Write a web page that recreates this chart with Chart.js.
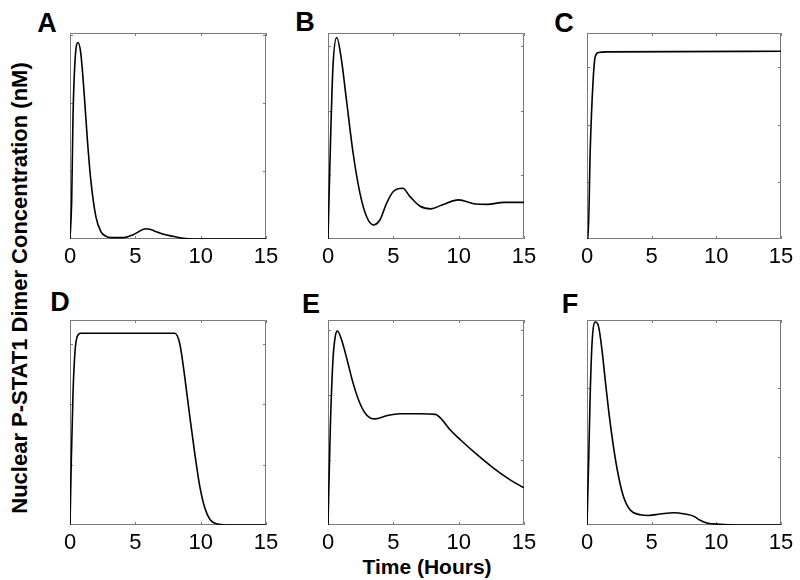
<!DOCTYPE html>
<html><head><meta charset="utf-8">
<script src="https://cdn.jsdelivr.net/npm/chart.js@4.4.0/dist/chart.umd.min.js"></script>
<style>
html,body{margin:0;padding:0;background:#fff;}
#wrap{position:relative;width:800px;height:580px;overflow:hidden;font-family:"Liberation Sans",Arial,sans-serif;color:#000;}
canvas{position:absolute;}
.letter{position:absolute;font-weight:bold;font-size:27px;line-height:1;transform:translate(-50%,-50%);}
#ylab{position:absolute;left:20px;top:288px;transform:translate(-50%,-50%) rotate(-90deg);white-space:nowrap;font-weight:bold;font-size:22px;line-height:1;}
#xlab{position:absolute;left:427px;top:566px;transform:translate(-50%,-50%);white-space:nowrap;font-weight:bold;font-size:21px;line-height:1;}
</style>
</head><body>
<div id="wrap">
  <div class="letter" style="left:47px;top:23px">A</div>
  <div class="letter" style="left:305px;top:22px">B</div>
  <div class="letter" style="left:564px;top:23px">C</div>
  <div class="letter" style="left:60px;top:302px">D</div>
  <div class="letter" style="left:311px;top:304px">E</div>
  <div class="letter" style="left:570px;top:304px">F</div>
  <div id="ylab">Nuclear P-STAT1 Dimer Concentration (nM)</div>
  <div id="xlab">Time (Hours)</div>
</div>
<script>
// ---- data (time in hours, concentration in arbitrary units: y ticks are unlabeled) ----
const xTickValues = [0, 5, 10, 15];
const xTickLabels = ['0', '5', '10', '15'];

const timeA = [0, 0.13, 0.23, 0.39, 0.62, 0.82, 1.08, 1.33, 1.59, 1.98, 2.36, 2.75, 3.13, 4.03, 4.8, 5.83, 6.86, 7.63, 8.14, 8.65, 9.5, 15];
const valA  = [0, 0.58, 1.80, 2.64, 2.89, 2.74, 2.15, 1.46, 0.87, 0.33, 0.11, 0.04, 0.02, 0.02, 0.06, 0.15, 0.09, 0.05, 0.03, 0.01, 0, 0];
const yTicksA = [1, 2, 3];

const timeB = [0, 0.21, 0.38, 0.67, 1.03, 1.41, 1.92, 2.44, 2.95, 3.46, 3.98, 4.49, 5.0, 5.72, 6.28, 7.05, 7.87, 8.72, 10.0, 11.15, 12.18, 13.46, 15];
const valB  = [0, 1.65, 2.69, 3.14, 2.79, 2.17, 1.34, 0.72, 0.35, 0.22, 0.30, 0.56, 0.74, 0.79, 0.66, 0.51, 0.47, 0.53, 0.61, 0.55, 0.54, 0.57, 0.57];
const yTicksB = [1, 2, 3];

const timeC = [0, 0.08, 0.25, 0.46, 0.64, 0.9, 1.54, 15];
const valC  = [0, 0, 1.56, 2.72, 3.19, 3.26, 3.27, 3.28];
const yTicksC = [1, 2, 3];

const timeD = [0, 0.1, 0.23, 0.39, 0.56, 0.82, 8.01, 8.40, 8.78, 9.17, 9.55, 9.94, 10.32, 10.71, 11.22, 11.99, 15];
const valD  = [0, 1.07, 2.18, 2.89, 3.12, 3.17, 3.17, 3.0, 2.45, 1.79, 1.18, 0.63, 0.28, 0.09, 0.02, 0, 0];
const yTicksD = [1, 2, 3];

const timeE = [0, 0.18, 0.38, 0.56, 0.72, 1.03, 1.46, 1.92, 2.44, 2.95, 3.59, 4.49, 5.51, 7.05, 8.21, 8.72, 9.36, 10.13, 11.41, 12.69, 13.97, 15];
const valE  = [0, 1.51, 2.54, 2.90, 2.98, 2.85, 2.54, 2.18, 1.87, 1.69, 1.63, 1.68, 1.71, 1.71, 1.70, 1.62, 1.46, 1.31, 1.08, 0.87, 0.69, 0.57];
const yTicksE = [1, 2, 3];

const timeF = [0, 0.13, 0.25, 0.39, 0.64, 0.9, 1.16, 1.41, 1.67, 2.05, 2.44, 2.83, 3.34, 4.12, 4.76, 5.66, 6.69, 7.59, 8.23, 8.75, 9.27, 10.3, 11.5, 15];
const valF  = [0, 0.95, 1.93, 2.66, 2.97, 2.90, 2.56, 2.12, 1.68, 1.14, 0.71, 0.41, 0.22, 0.15, 0.14, 0.16, 0.18, 0.16, 0.13, 0.07, 0.03, 0.01, 0, 0];
const yTicksF = [1, 2, 3];

// ---- layout ----
const panels = [
  {t: timeA, v: valA, yMax: 3.03, yt: yTicksA, x: 70,  y: 33,  w: 196, h: 206},
  {t: timeB, v: valB, yMax: 3.21, yt: yTicksB, x: 328, y: 33,  w: 196, h: 206},
  {t: timeC, v: valC, yMax: 3.60, yt: yTicksC, x: 587, y: 33,  w: 194, h: 206},
  {t: timeD, v: valD, yMax: 3.39, yt: yTicksD, x: 70,  y: 320, w: 196, h: 205},
  {t: timeE, v: valE, yMax: 3.15, yt: yTicksE, x: 328, y: 320, w: 196, h: 205},
  {t: timeF, v: valF, yMax: 3.00, yt: yTicksF, x: 587, y: 320, w: 194, h: 205}
];

const FRAME = '#7a7a7a';
const framePlugin = {
  id: 'frame',
  beforeDatasetsDraw(chart) {
    const {ctx, chartArea: a, scales: {x, y}} = chart;
    ctx.save();
    ctx.strokeStyle = FRAME;
    ctx.lineWidth = 1;
    ctx.beginPath();
    ctx.rect(a.left + 0.5, a.top + 0.5, a.right - a.left - 1, a.bottom - a.top - 1);
    ctx.stroke();
    const L = 3;
    ctx.beginPath();
    x.ticks.forEach(tk => {
      const px = Math.round(x.getPixelForValue(tk.value)) + 0.5;
      ctx.moveTo(px, a.bottom); ctx.lineTo(px, a.bottom - L);
      ctx.moveTo(px, a.top); ctx.lineTo(px, a.top + L);
    });
    y.ticks.forEach(tk => {
      const py = Math.round(y.getPixelForValue(tk.value)) + 0.5;
      ctx.moveTo(a.left, py); ctx.lineTo(a.left + L, py);
      ctx.moveTo(a.right, py); ctx.lineTo(a.right - L, py);
    });
    ctx.stroke();
    ctx.restore();
  }
};

const wrap = document.getElementById('wrap');
panels.forEach(p => {
  const padL = 40, padR = 40, padT = 10, axisH = 40;
  const cv = document.createElement('canvas');
  const W = p.w + padL + padR, H = p.h + padT + axisH;
  cv.width = W; cv.height = H;
  cv.style.width = W + 'px'; cv.style.height = H + 'px';
  cv.style.left = (p.x - padL) + 'px'; cv.style.top = (p.y - padT) + 'px';
  wrap.appendChild(cv);
  new Chart(cv, {
    type: 'line',
    data: {
      datasets: [{
        data: p.t.map((t, i) => ({x: t, y: p.v[i]})),
        borderColor: '#000', borderWidth: 1.6, pointRadius: 0, fill: false,
        cubicInterpolationMode: 'monotone'
      }]
    },
    options: {
      responsive: false, animation: false, events: [],
      plugins: {legend: {display: false}, tooltip: {enabled: false}},
      layout: {padding: {left: padL, right: padR, top: padT, bottom: 0}},
      scales: {
        x: {
          type: 'linear', min: 0, max: 15,
          afterBuildTicks: s => { s.ticks = xTickValues.map(v => ({value: v})); },
          afterFit: s => { s.height = axisH; },
          grid: {display: false, drawTicks: false},
          border: {display: false},
          ticks: {
            color: '#000', padding: 5, maxRotation: 0, autoSkip: false,
            font: {size: 22, family: '"Liberation Sans", Arial, sans-serif'},
            callback: (v) => xTickLabels[xTickValues.indexOf(v)]
          }
        },
        y: {
          type: 'linear', min: 0, max: p.yMax,
          afterBuildTicks: s => { s.ticks = p.yt.map(v => ({value: v})); },
          afterFit: s => { s.width = 0; },
          grid: {display: false, drawTicks: false},
          border: {display: false},
          ticks: {display: false}
        }
      }
    },
    plugins: [framePlugin]
  });
});
</script>
</body></html>
